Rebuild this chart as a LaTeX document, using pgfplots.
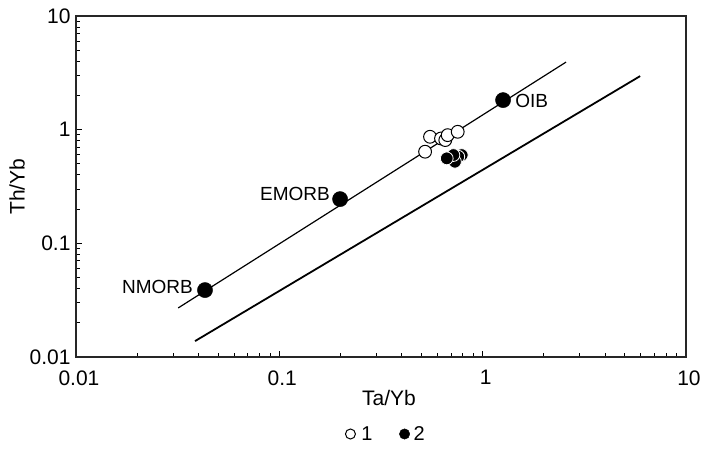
\documentclass[border=0pt]{standalone}
\usepackage{fontspec}
\setmainfont{Liberation Sans}
\usepackage{pgfplots}
\pgfplotsset{compat=1.18}
\begin{document}
\begin{tikzpicture}
\useasboundingbox (0,0) rectangle (702pt,448pt);
\begin{axis}[
  at={(76pt,91pt)}, anchor=south west,
  scale only axis, width=610pt, height=341pt,
  xmode=log, ymode=log,
  xmin=0.01, xmax=10, ymin=0.01, ymax=10,
  xtick={0.01,0.1,1,10}, xticklabels={0.01,0.1,1,10},
  ytick={0.01,0.1,1,10}, yticklabels={0.01,0.1,1,10},
  minor xtick={0.02,0.03,0.04,0.05,0.06,0.07,0.08,0.09,0.2,0.3,0.4,0.5,0.6,0.7,0.8,0.9,2,3,4,5,6,7,8,9},
  minor ytick={0.02,0.03,0.04,0.05,0.06,0.07,0.08,0.09,0.2,0.3,0.4,0.5,0.6,0.7,0.8,0.9,2,3,4,5,6,7,8,9},
  xtick pos=bottom, ytick pos=left, tick align=inside,
  major tick length=6pt, minor tick length=4pt,
  every tick/.style={black, line width=1pt},
  axis line style={line width=1.2pt, black!85},
  /pgf/number format/assume math mode=true,
  tick label style={font=\fontsize{21}{24}\selectfont},
  xticklabel style={yshift=-10pt, xshift=3pt},
  yticklabel style={xshift=-2pt},
  xlabel={Ta/Yb}, ylabel={Th/Yb},
  every axis x label/.style={at={(axis description cs:0.513,-0.120)}, anchor=center, font=\fontsize{21}{24}\selectfont},
  every axis y label/.style={at={(axis description cs:-0.0967,0.5)}, rotate=90, anchor=center, font=\fontsize{21}{24}\selectfont},
  legend columns=2,
  legend style={at={(axis description cs:0.5075,-0.2258)}, anchor=center, draw=none, fill=none,
    font=\fontsize{20}{22}\selectfont,
    /tikz/every even column/.append style={column sep=24pt}},
  clip=false,
]
% mantle array lines
\addplot[black, line width=1.2pt, forget plot] coordinates {(0.0318,0.0270) (2.57,3.93)};
\addplot[black, line width=1.8pt, forget plot] coordinates {(0.0385,0.0138) (5.95,2.96)};
% series 1 (open circles)
\addplot[only marks, mark=*, mark size=6.4pt, mark options={fill=white, draw=black, line width=1pt},
  legend image code/.code={\path[draw=none,fill=none] (-1pt,-5pt) rectangle (14pt,5pt); \draw[black, line width=1pt, fill=white] (5pt,0pt) circle (5pt);}]
  coordinates {(0.521,0.640) (0.551,0.866) (0.624,0.837) (0.655,0.810) (0.673,0.895) (0.754,0.958)};
\addlegendentry{1}
% series 2 (filled circles)
\addplot[only marks, mark=*, mark size=6.4pt, mark options={fill=black, draw=white, line width=0.8pt},
  legend image code/.code={\path[draw=none,fill=none] (-1pt,-5pt) rectangle (12pt,5pt); \draw[black, fill=black] (5pt,0pt) circle (5.2pt);}]
  coordinates {(0.789,0.598) (0.759,0.578) (0.731,0.522) (0.718,0.598) (0.666,0.559)};
\addlegendentry{2}
% reference compositions
\addplot[only marks, mark=*, mark size=7.6pt, mark options={fill=black, draw=black}, forget plot]
  coordinates {(0.0431,0.0388) (0.199,0.245) (1.26,1.82)};
\node[anchor=east, inner sep=0pt, font=\fontsize{19}{22}\selectfont, xshift=-12pt, yshift=3pt] at (axis cs:0.0431,0.0388) {NMORB};
\node[anchor=east, inner sep=0pt, font=\fontsize{19}{22}\selectfont, xshift=-10pt, yshift=5pt] at (axis cs:0.199,0.245) {EMORB};
\node[anchor=west, inner sep=0pt, font=\fontsize{19}{22}\selectfont, xshift=12pt, yshift=-1pt] at (axis cs:1.26,1.82) {OIB};
\end{axis}
\end{tikzpicture}
\end{document}
